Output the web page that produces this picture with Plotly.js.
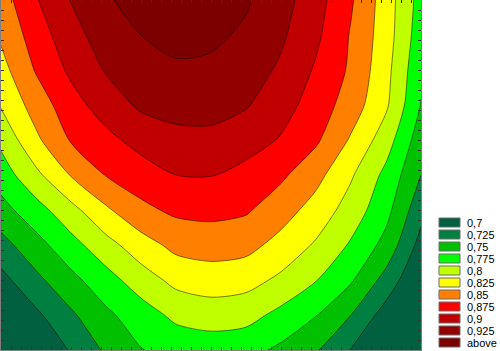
<!DOCTYPE html>
<html><head><meta charset="utf-8">
<script src="https://cdn.plot.ly/plotly-3.0.1.min.js"></script>
<style>html,body{margin:0;padding:0;background:#fff;overflow:hidden}#chart{width:500px;height:351px}</style>
</head><body><div id="chart"></div>
<script>
// grid coordinates (arbitrary units, no tick labels shown)
const xGrid = [0, 3.5, 7, 10.5, 14, 17.5, 21, 24.5, 28, 31.5, 35, 38.5, 42];
const yGrid = [0, 3.5, 7, 10.5, 14, 17.5, 21, 24.5, 28, 31.5, 35];

// estimated surface values, one row per yGrid value (bottom -> top)
const zY00 = [0.645, 0.673, 0.7025, 0.729, 0.749, 0.758, 0.761, 0.758, 0.745, 0.7275, 0.699, 0.669, 0.640];
const zY35 = [0.668, 0.695, 0.721, 0.745, 0.763, 0.781, 0.787, 0.784, 0.768, 0.751, 0.725, 0.689, 0.657];
const zY70 = [0.692, 0.719, 0.743, 0.765, 0.788, 0.807, 0.8125, 0.809, 0.795, 0.776, 0.753, 0.716, 0.674];
const zY105 = [0.716, 0.741, 0.766, 0.791, 0.814, 0.832, 0.836, 0.833, 0.8165, 0.797, 0.772, 0.742, 0.691];
const zY140 = [0.741, 0.765, 0.792, 0.821, 0.844, 0.855, 0.857, 0.853, 0.836, 0.815, 0.789, 0.758, 0.708];
const zY175 = [0.762, 0.794, 0.8265, 0.851, 0.863, 0.875, 0.876, 0.867, 0.8545, 0.833, 0.803, 0.7685, 0.725];
const zY210 = [0.781, 0.820, 0.852, 0.868, 0.884, 0.891, 0.892, 0.886, 0.873, 0.854, 0.822, 0.787, 0.736];
const zY245 = [0.802, 0.836, 0.865, 0.887, 0.904, 0.911, 0.911, 0.902, 0.885, 0.864, 0.838, 0.804, 0.749];
const zY280 = [0.816, 0.852, 0.880, 0.902, 0.915, 0.922, 0.920, 0.912, 0.896, 0.872, 0.846, 0.808, 0.755];
const zY315 = [0.829, 0.862, 0.891, 0.912, 0.925, 0.931, 0.930, 0.921, 0.904, 0.880, 0.848, 0.812, 0.761];
const zY350 = [0.838, 0.873, 0.901, 0.922, 0.935, 0.940, 0.938, 0.928, 0.910, 0.885, 0.853, 0.813, 0.765];

// contour levels and band colours
const levelStart = 0.7, levelEnd = 0.925, levelStep = 0.025;
const legendLabels = ['0,7', '0,725', '0,75', '0,775', '0,8', '0,825', '0,85', '0,875', '0,9', '0,925', 'above'];
const bandColors = ['#00603f', '#008040', '#00c000', '#00ff00', '#c0ff00', '#ffff00', '#ff8000', '#ff0000', '#c00000', '#920000', '#7c0000'];

const zValues = [zY00, zY35, zY70, zY105, zY140, zY175, zY210, zY245, zY280, zY315, zY350];

const n = bandColors.length;
const colorscale = [];
bandColors.forEach((c, k) => {
  const p = k / (n - 1);
  colorscale.push([Math.max(0, p - 0.04), c]);
  colorscale.push([Math.min(1, p + 0.04), c]);
});

const trace = {
  type: 'contour', x: xGrid, y: yGrid, z: zValues,
  autocontour: false,
  contours: {start: levelStart, end: levelEnd, size: levelStep, coloring: 'fill', showlines: true},
  line: {color: 'rgba(0,0,0,0.85)', width: 0.6, smoothing: 0.8},
  colorscale: colorscale, showscale: false, hoverinfo: 'skip'
};

// layout geometry (pixels)
const W = 500, H = 351, mL = 1, mR = 79, mT = 0, mB = 1;
const pw = W - mL - mR, ph = H - mT - mB;
const px2paper = (px) => (px - mL) / pw;
const py2paper = (py) => 1 - (py - mT) / ph;

const shapes = [], annotations = [];
legendLabels.forEach((lab, k) => {
  const top = 218 + 12 * k;
  shapes.push({type: 'rect', xref: 'paper', yref: 'paper',
    x0: px2paper(439), x1: px2paper(460), y0: py2paper(top + 9), y1: py2paper(top),
    fillcolor: bandColors[k], line: {color: '#6a6a6a', width: 1}});
  annotations.push({xref: 'paper', yref: 'paper', x: px2paper(465), y: py2paper(top + 4.5),
    xanchor: 'left', yanchor: 'middle', text: lab, showarrow: false,
    font: {family: 'Liberation Sans, Arial, sans-serif', size: 11, color: '#000'}});
});

const axisCommon = {showgrid: false, zeroline: false, showticklabels: false,
  ticks: 'inside', ticklen: 3, tickwidth: 1, tickcolor: '#333', dtick: 1, tick0: 0,
  showline: true, linecolor: '#808080', linewidth: 1, mirror: 'allticks', fixedrange: true};

const layout = {
  width: W, height: H, margin: {l: mL, r: mR, t: mT, b: mB, pad: 0},
  paper_bgcolor: '#fff', plot_bgcolor: '#fff', showlegend: false,
  xaxis: Object.assign({range: [0, 42]}, axisCommon),
  yaxis: Object.assign({range: [0, 35]}, axisCommon),
  shapes: shapes, annotations: annotations
};

Plotly.newPlot('chart', [trace], layout, {staticPlot: true, displayModeBar: false});
</script></body></html>
